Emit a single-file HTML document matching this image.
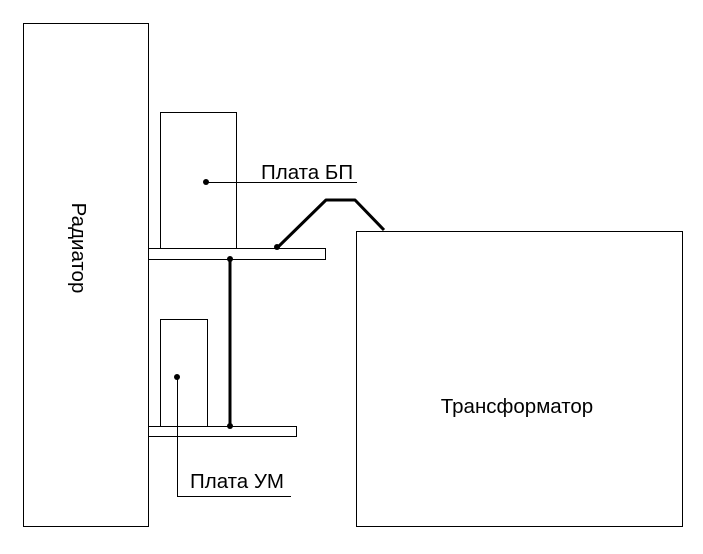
<!DOCTYPE html>
<html><head><meta charset="utf-8"><style>html,body{margin:0;padding:0;background:#fff}</style></head>
<body>
<svg width="703" height="549" xmlns="http://www.w3.org/2000/svg" font-family="Liberation Sans, sans-serif" font-size="20.5">
<rect width="703" height="549" fill="#fff"/>
<g fill="none" stroke="#000" stroke-width="1">
<rect x="23.5" y="23.5" width="125" height="503"/>
<rect x="160.5" y="112.5" width="76" height="136"/>
<rect x="148.5" y="248.5" width="177" height="11"/>
<rect x="160.5" y="319.5" width="47" height="107"/>
<rect x="148.5" y="426.5" width="148" height="10"/>
<rect x="356.5" y="231.5" width="326" height="295"/>
<polyline points="206,182.5 357,182.5"/>
<polyline points="177.5,377 177.5,496.5 291,496.5"/>
</g>
<g fill="none" stroke="#000" stroke-width="3" stroke-linejoin="round">
<polyline points="277,248 326,200 355,200 384,230"/>
<line x1="230" y1="259" x2="230" y2="427"/>
</g>
<g fill="#000">
<circle cx="206" cy="182" r="3"/>
<circle cx="277" cy="247" r="3"/>
<circle cx="230" cy="259" r="3"/>
<circle cx="230" cy="426" r="3"/>
<circle cx="177" cy="377" r="3"/>
<text x="261" y="179">Плата БП</text>
<text x="190" y="488">Плата УМ</text>
<text x="517" y="413" text-anchor="middle">Трансформатор</text>
<text transform="translate(72,248) rotate(90)" text-anchor="middle">Радиатор</text>
</g>
</svg>
</body></html>
